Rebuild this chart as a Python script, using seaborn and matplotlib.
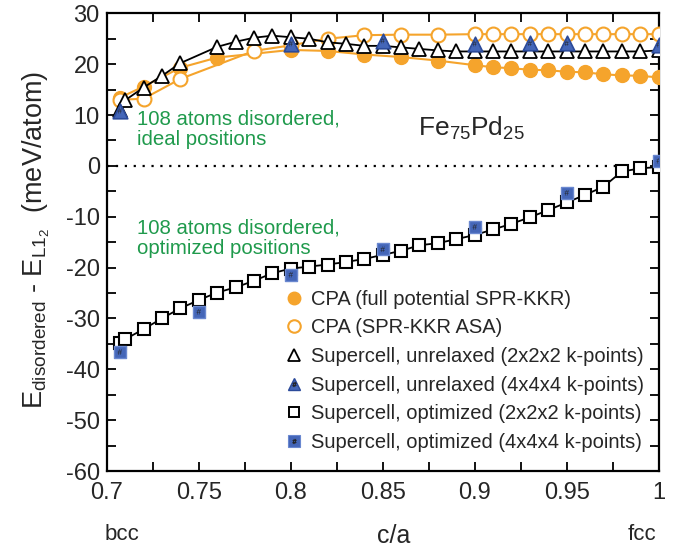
import numpy as np
import pandas as pd
import matplotlib
matplotlib.use("Agg")
import matplotlib.pyplot as plt
from matplotlib.lines import Line2D
from matplotlib.ticker import MultipleLocator
import seaborn as sns

# c/a ratios (bcc = 1/sqrt(2) ... fcc = 1)
ca_fp = [0.7071, 0.72, 0.74, 0.76, 0.80, 0.82, 0.84, 0.86, 0.88, 0.90,
         0.91, 0.92, 0.93, 0.94, 0.95, 0.96, 0.97, 0.98, 0.99, 1.00]
e_cpa_fp = [13.4, 15.6, 19.3, 21.3, 22.8, 22.6, 21.9, 21.4, 20.7, 19.8,
            19.4, 19.2, 18.9, 18.8, 18.5, 18.4, 18.0, 17.8, 17.7, 17.4]

ca_asa = [0.7071, 0.72, 0.74, 0.78, 0.80, 0.82, 0.84, 0.86, 0.88, 0.90,
          0.91, 0.92, 0.93, 0.94, 0.95, 0.96, 0.97, 0.98, 0.99, 1.00]
e_cpa_asa = [13.0, 13.2, 17.1, 22.6, 23.7, 25.0, 25.7, 25.8, 25.8, 25.9,
             25.9, 25.9, 25.9, 25.9, 25.9, 25.9, 25.9, 25.9, 25.9, 25.9]

ca_unrel = [0.7071, 0.71, 0.72, 0.73, 0.74, 0.76, 0.77, 0.78, 0.79, 0.80,
            0.81, 0.82, 0.83, 0.84, 0.85, 0.86, 0.87, 0.88, 0.89, 0.90,
            0.91, 0.92, 0.93, 0.94, 0.95, 0.96, 0.97, 0.98, 0.99, 1.00]
e_unrel_2 = [11.0, 12.9, 15.4, 17.7, 20.2, 23.4, 24.4, 25.2, 25.6, 25.3,
             25.0, 24.3, 24.0, 23.6, 23.6, 23.3, 23.0, 22.7, 22.5, 22.5,
             22.5, 22.5, 22.5, 22.5, 22.5, 22.5, 22.5, 22.5, 22.5, 22.7]

ca_unrel_4 = [0.7071, 0.80, 0.85, 0.90, 0.93, 0.95, 1.00]
e_unrel_4 = [10.8, 24.0, 24.6, 24.0, 24.1, 24.1, 23.8]

ca_opt = [0.7071, 0.71, 0.72, 0.73, 0.74, 0.75, 0.76, 0.77, 0.78, 0.79,
          0.80, 0.81, 0.82, 0.83, 0.84, 0.85, 0.86, 0.87, 0.88, 0.89,
          0.90, 0.91, 0.92, 0.93, 0.94, 0.95, 0.96, 0.97, 0.98, 0.99, 1.00]
e_opt_2 = [-34.8, -34.1, -32.1, -30.0, -28.0, -26.4, -24.9, -23.9, -22.6, -21.1,
           -20.2, -19.8, -19.4, -18.9, -18.3, -17.5, -16.7, -15.6, -15.2, -14.4,
           -13.6, -12.5, -11.4, -10.1, -8.7, -7.2, -5.7, -4.1, -1.1, -0.5, -0.2]

ca_opt_4 = [0.7071, 0.75, 0.80, 0.85, 0.90, 0.95, 1.00]
e_opt_4 = [-36.6, -28.7, -21.4, -16.4, -12.0, -5.3, 1.0]

legend_labels = [
    "CPA (full potential SPR-KKR)",
    "CPA (SPR-KKR ASA)",
    "Supercell, unrelaxed (2x2x2 k-points)",
    "Supercell, unrelaxed (4x4x4 k-points)",
    "Supercell, optimized (2x2x2 k-points)",
    "Supercell, optimized (4x4x4 k-points)",
]

ORANGE = "#F5A42C"
BLUE = "#4466B8"
BLUE_EDGE = "#2B4A9A"
GREEN = "#1F9A4C"

sns.set_theme(style="ticks")
plt.rcParams["font.family"] = ["Liberation Sans", "DejaVu Sans"]
plt.rcParams["mathtext.fontset"] = "custom"
plt.rcParams["mathtext.rm"] = "Liberation Sans"
plt.rcParams["mathtext.it"] = "Liberation Sans:italic"
plt.rcParams["mathtext.default"] = "regular"
plt.rcParams["axes.unicode_minus"] = False

fig = plt.figure(figsize=(6.78, 5.50), dpi=100)
ax = fig.add_axes([0.1574, 0.1436, 0.8141, 0.8322])

ax.axhline(0, xmin=0, xmax=0.93, color="black", ls=(0, (1, 3)), lw=1.6, zorder=1)

df_fp = pd.DataFrame({"ca": ca_fp, "E": e_cpa_fp})
df_asa = pd.DataFrame({"ca": ca_asa, "E": e_cpa_asa})
df_u2 = pd.DataFrame({"ca": ca_unrel, "E": e_unrel_2})
df_u4 = pd.DataFrame({"ca": ca_unrel_4, "E": e_unrel_4})
df_o2 = pd.DataFrame({"ca": ca_opt, "E": e_opt_2})
df_o4 = pd.DataFrame({"ca": ca_opt_4, "E": e_opt_4})

sns.lineplot(data=df_fp, x="ca", y="E", ax=ax, color=ORANGE, lw=1.5,
             marker="o", markersize=10, markerfacecolor=ORANGE,
             markeredgecolor=ORANGE, markeredgewidth=1.0, sort=False, zorder=3)
sns.lineplot(data=df_asa, x="ca", y="E", ax=ax, color=ORANGE, lw=1.5,
             marker="o", markersize=10, markerfacecolor="white",
             markeredgecolor=ORANGE, markeredgewidth=1.5, sort=False, zorder=3)
sns.lineplot(data=df_u2, x="ca", y="E", ax=ax, color="black", lw=1.3,
             marker="^", markersize=10, markerfacecolor="white",
             markeredgecolor="black", markeredgewidth=1.3, sort=False, zorder=4)
sns.lineplot(data=df_o2, x="ca", y="E", ax=ax, color="black", lw=1.3,
             marker="s", markersize=8.5, markerfacecolor="white",
             markeredgecolor="black", markeredgewidth=1.5, sort=False, zorder=4)

sns.scatterplot(data=df_u4, x="ca", y="E", ax=ax, marker="^", s=110,
                color=BLUE, edgecolor=BLUE_EDGE, linewidth=1.2, zorder=5)
sns.scatterplot(data=df_u4, x="ca", y="E", ax=ax, marker=r"$\#$", s=14,
                color="#222222", edgecolor="none", linewidth=0, zorder=6)
sns.scatterplot(data=df_o4, x="ca", y="E", ax=ax, marker="s", s=80,
                color=BLUE, edgecolor="#6A88D0", linewidth=1.0, zorder=5)
sns.scatterplot(data=df_o4, x="ca", y="E", ax=ax, marker=r"$\#$", s=16,
                color="#222222", edgecolor="none", linewidth=0, zorder=6)

ax.set_xlim(0.7, 1.0)
ax.set_ylim(-60, 30)
ax.xaxis.set_major_locator(MultipleLocator(0.05))
ax.xaxis.set_minor_locator(MultipleLocator(0.025))
ax.yaxis.set_major_locator(MultipleLocator(10))
ax.yaxis.set_minor_locator(MultipleLocator(5))
ax.set_xticks([0.7, 0.75, 0.8, 0.85, 0.9, 0.95, 1.0])
ax.set_xticklabels(["0.7", "0.75", "0.8", "0.85", "0.9", "0.95", "1"])
ax.tick_params(which="both", direction="in", top=True, right=True,
               length=6.5, width=1.3, color="black")
ax.tick_params(axis="x", which="major", labelsize=17, pad=8)
ax.tick_params(axis="y", which="major", labelsize=17, pad=5)
for sp in ax.spines.values():
    sp.set_linewidth(1.6)
    sp.set_color("black")
ax.set_xlabel("")
ax.set_ylabel(r"$\mathrm{E_{disordered}}$ - $\mathrm{E_{L1_{2}}}$  (meV/atom)",
              fontsize=19.5)
ax.yaxis.set_label_coords(-0.10, 0.505)

fig.text(394 / 678, 1 - 536 / 550, "c/a", fontsize=18, ha="center", va="center")
fig.text(122 / 678, 1 - 535 / 550, "bcc", fontsize=16, ha="center", va="center")
fig.text(642 / 678, 1 - 535 / 550, "fcc", fontsize=16, ha="center", va="center")

ax.text(0.7165, 11.0, "108 atoms disordered,\nideal positions", color=GREEN,
        fontsize=14.7, ha="left", va="top", linespacing=1.05)
ax.text(0.7165, -10.4, "108 atoms disordered,\noptimized positions", color=GREEN,
        fontsize=14.7, ha="left", va="top", linespacing=1.05)
ax.text(0.869, 7.4, r"Fe$_{75}$Pd$_{25}$", fontsize=19, ha="left", va="center")

handles = [
    Line2D([], [], ls="none", marker="o", ms=9, mfc=ORANGE, mec=ORANGE),
    Line2D([], [], ls="none", marker="o", ms=9, mfc="white", mec=ORANGE, mew=1.5),
    Line2D([], [], ls="none", marker="^", ms=8, mfc="white", mec="black", mew=1.3),
    (Line2D([], [], ls="none", marker="^", ms=9, mfc=BLUE, mec=BLUE_EDGE, mew=1.0),
     Line2D([], [], ls="none", marker=r"$\#$", ms=3.5, mfc="#222222", mec="#222222", mew=0.3)),
    Line2D([], [], ls="none", marker="s", ms=7.5, mfc="white", mec="black", mew=1.4),
    (Line2D([], [], ls="none", marker="s", ms=8, mfc=BLUE, mec="#6A88D0", mew=0.8),
     Line2D([], [], ls="none", marker=r"$\#$", ms=3.5, mfc="#222222", mec="#222222", mew=0.3)),
]
leg = ax.legend(handles, legend_labels, loc="upper left",
                bbox_to_anchor=(0.31, 0.414), frameon=False, fontsize=14.5,
                handlelength=0.8, handletextpad=0.45, labelspacing=0.48,
                borderaxespad=0)

fig.savefig("out.png", dpi=100)
